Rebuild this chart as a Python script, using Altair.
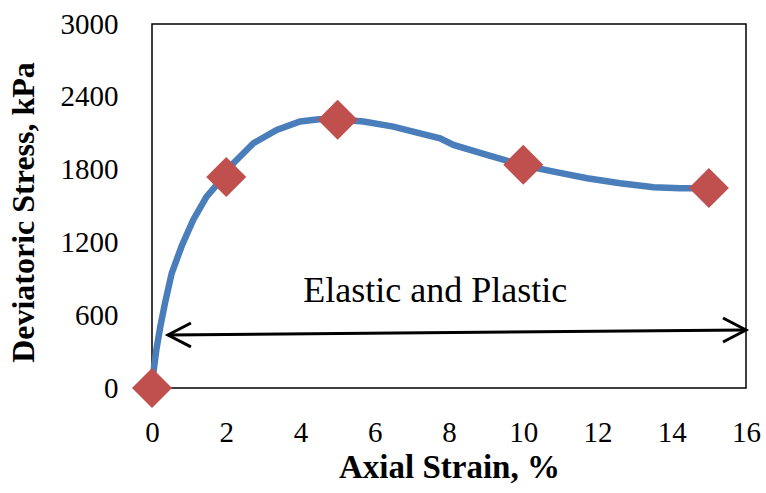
import altair as alt
import pandas as pd

# Stress-strain curve
curve_x = [0, 0.05, 0.12, 0.22, 0.35, 0.53, 0.8, 1.11, 1.47, 1.92, 2.19, 2.73, 3.36, 3.99,
           4.5, 4.93, 5.70, 6.50, 7.22, 7.76, 8.12, 9.02, 9.96, 10.82, 11.72, 12.61, 13.51,
           14.23, 14.99]
curve_y = [0, 160, 320, 500, 700, 945, 1170, 1385, 1577, 1735, 1852, 2017, 2127, 2196,
           2215, 2215, 2196, 2154, 2099, 2058, 2003, 1921, 1838, 1783, 1729, 1688, 1654,
           1646, 1646]

# Marker points
marker_x = [0, 2, 5, 10, 15]
marker_y = [0, 1740, 2210, 1840, 1648]

# Double arrow
arrow_x = [0.43, 16]
arrow_y = [437, 478]

label_text = ["Elastic and Plastic"]
label_x = [7.63]
label_y = [709]

x_ticks = [0, 2, 4, 6, 8, 10, 12, 14, 16]
y_ticks = [0, 600, 1200, 1800, 2400, 3000]

FONT = "Liberation Serif"

curve_df = pd.DataFrame({"x": curve_x, "y": curve_y})
marker_df = pd.DataFrame({"x": marker_x, "y": marker_y})
arrow_df = pd.DataFrame({"x": [arrow_x[0]], "y": [arrow_y[0]], "x2": [arrow_x[1]], "y2": [arrow_y[1]]})
head_l = pd.DataFrame({"x": [arrow_x[0]], "y": [arrow_y[0]]})
head_r = pd.DataFrame({"x": [arrow_x[1]], "y": [arrow_y[1]]})
text_df = pd.DataFrame({"x": label_x, "y": label_y, "t": label_text})

xscale = alt.Scale(domain=[0, 16], nice=False, zero=False)
yscale = alt.Scale(domain=[0, 3000], nice=False)

xaxis = alt.Axis(values=x_ticks, title="Axial Strain, %", grid=False, ticks=False, domain=False,
                 labelFont=FONT, labelFontSize=29, labelColor="#000", labelPadding=30,
                 labelFlush=False,
                 titleFont=FONT, titleFontSize=33, titleFontWeight="bold", titleColor="#000",
                 titleY=89, titleBaseline="alphabetic")
yaxis = alt.Axis(values=y_ticks, format="d", title="Deviatoric  Stress, kPa", grid=False, ticks=False,
                 domain=False,
                 labelFont=FONT, labelFontSize=29, labelColor="#000", labelPadding=34,
                 labelFlush=False,
                 titleFont=FONT, titleFontSize=32, titleFontWeight="bold", titleColor="#000",
                 titleX=-119, titleY=188, titleBaseline="alphabetic", titleAlign="center", titleAngle=270)

line = alt.Chart(curve_df).mark_line(color="#4A7EBB", strokeWidth=6.5).encode(
    x=alt.X("x:Q", scale=xscale, axis=xaxis),
    y=alt.Y("y:Q", scale=yscale, axis=yaxis),
)

markers = alt.Chart(marker_df).mark_point(shape="diamond", filled=True, size=1600,
                                          color="#C0504D", opacity=1).encode(
    x=alt.X("x:Q", scale=xscale),
    y=alt.Y("y:Q", scale=yscale),
)

arrow = alt.Chart(arrow_df).mark_rule(color="#000", strokeWidth=3).encode(
    x=alt.X("x:Q", scale=xscale), x2="x2:Q",
    y=alt.Y("y:Q", scale=yscale), y2="y2:Q",
)

left_head = alt.Chart(head_l).mark_point(shape="M 1 -0.52 L 0 0 L 1 0.52", size=2116, filled=False,
                                         stroke="#000", strokeWidth=3, opacity=1).encode(
    x=alt.X("x:Q", scale=xscale), y=alt.Y("y:Q", scale=yscale))
right_head = alt.Chart(head_r).mark_point(shape="M -1 -0.52 L 0 0 L -1 0.52", size=2116, filled=False,
                                          stroke="#000", strokeWidth=3, opacity=1).encode(
    x=alt.X("x:Q", scale=xscale), y=alt.Y("y:Q", scale=yscale))

label = alt.Chart(text_df).mark_text(font=FONT, fontSize=36, color="#000", align="center",
                                     baseline="alphabetic").encode(
    x=alt.X("x:Q", scale=xscale), y=alt.Y("y:Q", scale=yscale), text="t:N")

chart = alt.layer(line, arrow, left_head, right_head, label, markers).properties(
    width=594, height=364,
    padding={"left": 152, "top": 24, "right": 20, "bottom": 105},
    autosize=alt.AutoSizeParams(type="none"),
    background="white",
).configure_view(stroke="#000", strokeWidth=1.5)

chart.save("out.html", embed_options={"renderer": "svg", "actions": False})
